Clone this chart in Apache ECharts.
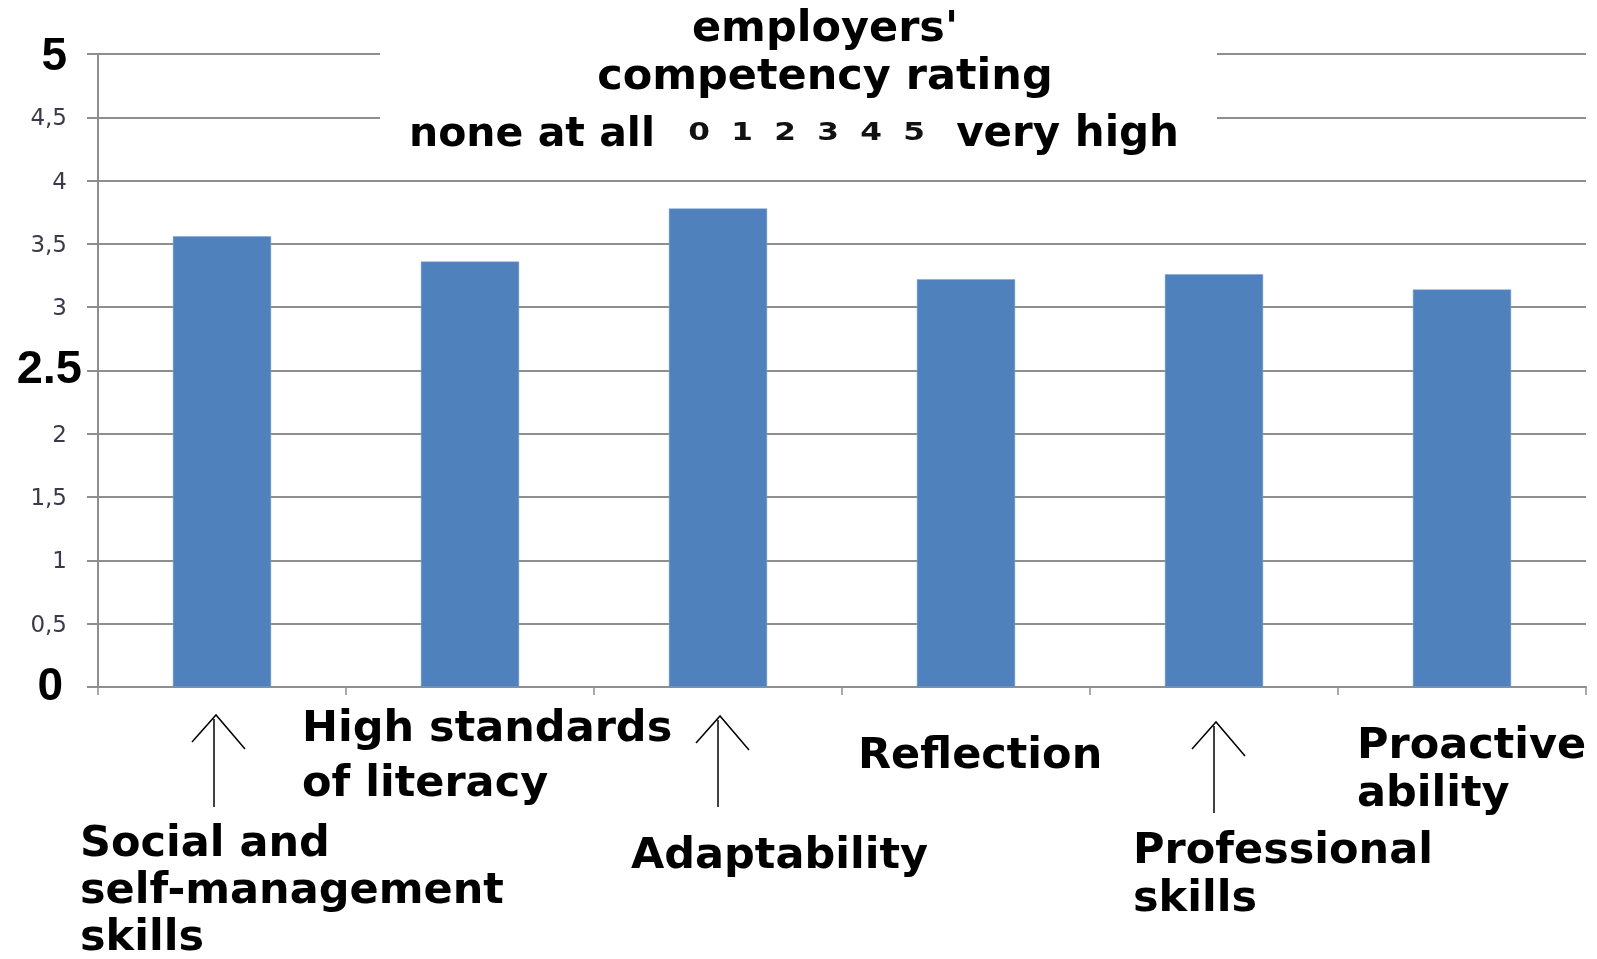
<!DOCTYPE html>
<html>
<head>
<meta charset="utf-8">
<script src="https://cdn.jsdelivr.net/npm/echarts@6/dist/echarts.min.js"></script>
<style>
html,body{margin:0;padding:0;background:#fff;}
#chart{width:1597px;height:959px;}
</style>
</head>
<body>
<div id="chart"></div>
<script>
// ---- data ----
const categories = ['Social and\nself-management\nskills', 'High standards\nof literacy', 'Adaptability', 'Reflection', 'Professional\nskills', 'Proactive\nability'];
const ratings = [3.56, 3.36, 3.78, 3.22, 3.26, 3.14];
const yTickLabels = ['0', '0,5', '1', '1,5', '2', '2.5', '3', '3,5', '4', '4,5', '5'];
const titleLines = ["employers'", 'competency rating'];
const scaleLow = 'none at all';
const scaleHigh = 'very high';
const scaleDigits = ['0', '1', '2', '3', '4', '5'];
const arrowCategories = [0, 2, 4];

// ---- layout (positions/styles) ----
const labelLayout = [
  {dx: -142, dy: 134, lh: 47},
  {dx: -168, dy: 15, lh: 55},
  {dx: -87, dy: 146, lh: 48},
  {dx: -108, dy: 46, lh: 48},
  {dx: -81, dy: 141, lh: 48},
  {dx: -105, dy: 36, lh: 48}
];
const arrowLayout = {0: {dx: -6, tip: 28, bottom: 120}, 2: {dx: 2, tip: 29, bottom: 120}, 4: {dx: 2, tip: 35, bottom: 126}};
const FONT = '"DejaVu Sans", Verdana, sans-serif';
const GRID_COLOR = '#8e8e8e';

const chart = echarts.init(document.getElementById('chart'), null, {renderer: 'canvas'});

const option = {
  animation: false,
  backgroundColor: '#ffffff',
  grid: {left: 98, right: 11, top: 54, bottom: 272, containLabel: false},
  xAxis: {
    type: 'category',
    data: categories,
    boundaryGap: true,
    axisLine: {show: true, lineStyle: {color: GRID_COLOR, width: 2}},
    axisTick: {show: true, length: 8, lineStyle: {color: GRID_COLOR, width: 1.5}},
    axisLabel: {show: false},
    splitLine: {show: false}
  },
  yAxis: {
    type: 'value',
    min: 0,
    max: 5,
    interval: 0.5,
    axisLine: {show: true, lineStyle: {color: GRID_COLOR, width: 2}},
    axisTick: {show: true, length: 11, lineStyle: {color: GRID_COLOR, width: 2}},
    splitLine: {show: true, lineStyle: {color: GRID_COLOR, width: 2}},
    axisLabel: {
      margin: 16,
      formatter: function (v) {
        const i = Math.round(v / 0.5);
        const t = yTickLabels[i];
        if (i === 5) return '{mid|' + t + '}';
        if (i === 10) return '{top|' + t + '}';
        if (i === 0) return '{zero|' + t + '}';
        return '{s|' + t + '}';
      },
      rich: {
        s: {fontSize: 23, fontFamily: FONT, color: '#3a3a4a', padding: [4, 15, 0, 0]},
        mid: {fontSize: 47, fontWeight: 'bold', fontFamily: '"Liberation Sans", Arial, sans-serif', color: '#000', padding: [0, 0, 0, 0]},
        top: {fontSize: 46, fontWeight: 'bold', fontFamily: '"Liberation Sans", Arial, sans-serif', color: '#000', padding: [6, 15, 0, 0]},
        zero: {fontSize: 46, fontWeight: 'bold', fontFamily: '"Liberation Sans", Arial, sans-serif', color: '#000', padding: [0, 19, 0, 0]}
      }
    }
  },
  series: [{
    type: 'bar',
    data: ratings,
    barWidth: '39.6%',
    itemStyle: {color: '#4f81bd', borderColor: '#7ea3d2', borderWidth: 0.5}
  }]
};
chart.setOption(option);

// ---- annotations placed through the chart's own scales ----
const baseY = chart.convertToPixel({yAxisIndex: 0}, 0);
const g = [];
// white title box covering gridlines
g.push({type: 'rect', z: 100, shape: {x: 380, y: 0, width: 837, height: 160}, style: {fill: '#ffffff'}});
const tLines = [{t: titleLines[0], y: 30}, {t: titleLines[1], y: 78}];
tLines.forEach(function (l) {
  g.push({type: 'text', z: 101, x: 825, y: l.y, style: {text: l.t, fontSize: 43, fontWeight: 'bold', fontFamily: FONT, fill: '#000', align: 'center', verticalAlign: 'middle', textAlign: 'center', textVerticalAlign: 'middle'}});
});
g.push({type: 'text', z: 101, x: 409, y: 135, style: {text: scaleLow, fontSize: 41, fontWeight: 'bold', fontFamily: FONT, fill: '#000', align: 'left', verticalAlign: 'middle', textAlign: 'left', textVerticalAlign: 'middle'}});
g.push({type: 'text', z: 101, x: 1179, y: 135, style: {text: scaleHigh, fontSize: 42, fontWeight: 'bold', fontFamily: FONT, fill: '#000', align: 'right', verticalAlign: 'middle', textAlign: 'right', textVerticalAlign: 'middle'}});
scaleDigits.forEach(function (d, i) {
  g.push({type: 'text', z: 101, x: 699 + i * 43, y: 134, scaleX: 1.3, style: {text: d, fontSize: 24, fontWeight: 'bold', fontFamily: FONT, fill: '#111', align: 'center', verticalAlign: 'middle', textAlign: 'center', textVerticalAlign: 'middle'}});
});
// category labels
categories.forEach(function (c, i) {
  const cx = chart.convertToPixel({xAxisIndex: 0}, i);
  const L = labelLayout[i];
  g.push({type: 'text', z: 101, x: cx + L.dx, y: baseY + L.dy, style: {text: c, fontSize: 43, fontWeight: 'bold', fontFamily: FONT, fill: '#000', lineHeight: L.lh, align: 'left', verticalAlign: 'top', textAlign: 'left', textVerticalAlign: 'top'}});
});
// arrows
arrowCategories.forEach(function (i) {
  const cx = chart.convertToPixel({xAxisIndex: 0}, i);
  const A = arrowLayout[i];
  const tx = cx + A.dx, ty = baseY + A.tip;
  g.push({type: 'line', z: 101, shape: {x1: tx - 2, y1: ty + 4, x2: tx - 2, y2: baseY + A.bottom}, style: {stroke: '#000', lineWidth: 1.5}});
  g.push({type: 'polyline', z: 101, shape: {points: [[tx - 24, ty + 27], [tx, ty], [tx + 29, ty + 34]]}, style: {stroke: '#000', lineWidth: 1.5, fill: null}});
});
chart.setOption({graphic: g});
</script>
</body>
</html>
